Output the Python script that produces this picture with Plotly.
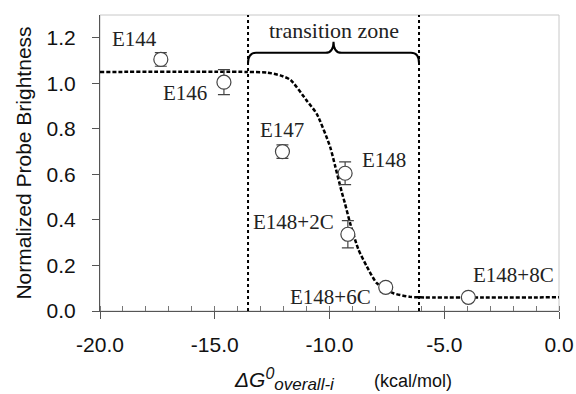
import plotly.graph_objects as go

# ---- data ----
labels = ["E144", "E146", "E147", "E148", "E148+2C", "E148+6C", "E148+8C"]
dg = [-17.35, -14.6, -12.05, -9.32, -9.2, -7.55, -3.95]
brightness = [1.105, 1.005, 0.70, 0.605, 0.337, 0.104, 0.06]
err = [0.03, 0.055, 0.03, 0.05, 0.06, 0.02, 0.01]
label_x = [-18.5, -16.3, -12.06, -7.63, -11.56, -9.95, -1.99]
label_y = [1.193, 0.956, 0.795, 0.663, 0.392, 0.063, 0.158]

fit_x = [-20, -13.6, -12.7, -12.15, -11.7, -11.0, -10.55, -9.97, -9.75, -9.46,
         -9.32, -9.10, -8.74, -8.37, -7.94, -7.21, -6.48, -6.1, 0]
fit_y = [1.05, 1.05, 1.047, 1.035, 1.015, 0.925, 0.865, 0.72, 0.635, 0.52,
         0.47, 0.385, 0.27, 0.195, 0.122, 0.078, 0.062, 0.06, 0.06]

zone = [-13.55, -6.1]
zone_label = "transition zone"

x_ticks = [-20, -15, -10, -5, 0]
x_ticklabels = ["-20.0", "-15.0", "-10.0", "-5.0", "0.0"]
y_ticks = [0.0, 0.2, 0.4, 0.6, 0.8, 1.0, 1.2]
y_ticklabels = ["0.0", "0.2", "0.4", "0.6", "0.8", "1.0", "1.2"]

SERIF = "Liberation Serif"
SANS = "Liberation Sans"

fig = go.Figure()

# zone boundaries
for zx in zone:
    fig.add_trace(go.Scatter(x=[zx, zx], y=[0, 1.3], mode="lines",
                             line=dict(color="black", width=2, dash="dot"),
                             hoverinfo="skip", showlegend=False))

# fitted curve
fig.add_trace(go.Scatter(x=fit_x, y=fit_y, mode="lines",
                         line=dict(color="black", width=2.5, dash="4px,2px",
                                   shape="spline", smoothing=0.6),
                         hoverinfo="skip", showlegend=False))

# data points
fig.add_trace(go.Scatter(
    x=dg, y=brightness, mode="markers",
    marker=dict(symbol="circle", size=14, color="white",
                line=dict(color="#444", width=1.2)),
    error_y=dict(type="data", array=err, visible=True, color="#444",
                 thickness=1.2, width=6),
    showlegend=False))

# point labels
for t, lx, ly in zip(labels, label_x, label_y):
    fig.add_annotation(x=lx, y=ly, text=t, showarrow=False,
                       font=dict(family=SERIF, size=21, color="#222"))

# brace
L, R = zone
M = (L + R) / 2
bh, bt, bp, d = 1.134, 1.088, 1.183, 0.35
path = (f"M {L},{bt} Q {L},{bh} {L+d},{bh} L {M-d},{bh} "
        f"Q {M},{bh} {M},{bp} Q {M},{bh} {M+d},{bh} "
        f"L {R-d},{bh} Q {R},{bh} {R},{bt}")
fig.add_shape(type="path", path=path, xref="x", yref="y",
              line=dict(color="black", width=2))
fig.add_annotation(x=M, y=1.234, text=zone_label, showarrow=False,
                   font=dict(family=SERIF, size=22, color="#222"))

# x-axis title as annotation
xtitle = ('<i><span style="font-size:21px">ΔG</span></i>'
          '<sup><i><span style="font-size:16px">0</span></i></sup>'
          '<sub><i><span style="font-size:17px">overall-i</span></i></sub>'
          '        (kcal/mol)')
fig.add_annotation(xref="paper", yref="paper", x=0.53, y=-0.232,
                   xanchor="center", yanchor="middle", text=xtitle,
                   showarrow=False, font=dict(family=SANS, size=18, color="#111"))

# light frame
fig.add_shape(type="rect", xref="paper", yref="paper", x0=0, x1=1, y0=0, y1=1,
              line=dict(color="#c8c8c8", width=1), layer="below")

fig.update_layout(
    width=576, height=394,
    margin=dict(l=100, r=17, t=15, b=83, autoexpand=False),
    plot_bgcolor="white", paper_bgcolor="white",
    showlegend=False,
    xaxis=dict(
        range=[-20, 0], tickmode="array", tickvals=x_ticks, ticktext=x_ticklabels,
        ticks="outside", ticklen=7, tickcolor="#555", tickwidth=1,
        showline=True, linecolor="#555", linewidth=1,
        showgrid=False, zeroline=False, automargin=False,
        tickfont=dict(family=SANS, size=21, color="#111"),
        ticklabelstandoff=8,
        minor=dict(tickmode="linear", tick0=0, dtick=1, ticks="inside",
                   ticklen=5, tickcolor="#777", showgrid=False),
    ),
    yaxis=dict(
        range=[0, 1.3], tickmode="array", tickvals=y_ticks, ticktext=y_ticklabels,
        ticks="outside", ticklen=7, tickcolor="#555", tickwidth=1,
        showline=True, linecolor="#555", linewidth=1,
        showgrid=False, zeroline=False, automargin=False,
        tickfont=dict(family=SANS, size=21, color="#111"),
        ticklabelstandoff=12,
        title=dict(text="Normalized Probe Brightness",
                   font=dict(family=SANS, size=21, color="#111"), standoff=9),
    ),
)

fig.write_html("out.html")
